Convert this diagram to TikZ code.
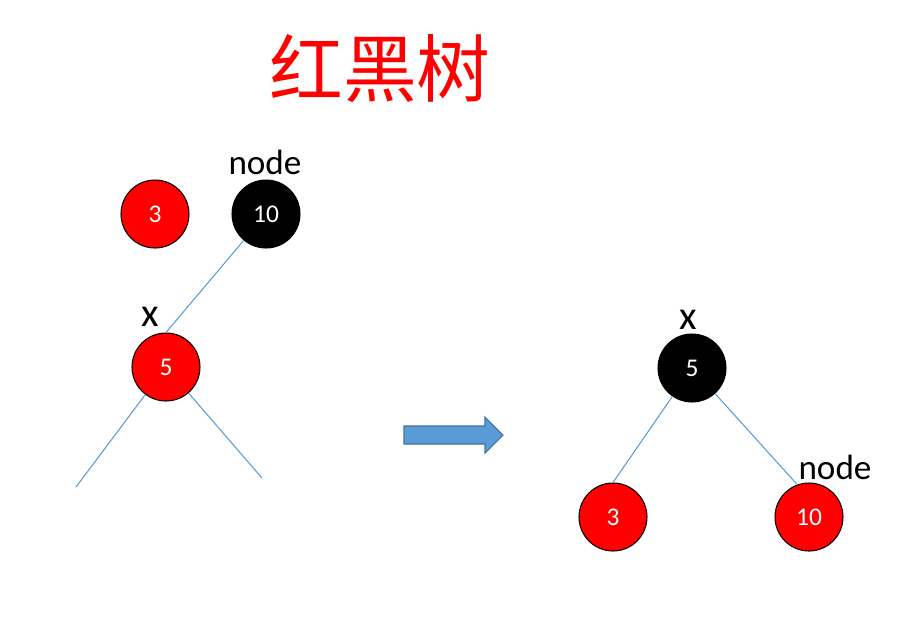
\documentclass[tikz,border=0pt]{standalone}
\usepackage{fontspec}
\setmainfont{Carlito}
\newfontfamily\cjk{Noto Sans CJK SC}
\definecolor{treeline}{HTML}{5B9BD5}
\definecolor{arrowfill}{HTML}{5B9BD5}
\definecolor{arrowedge}{HTML}{41719C}

\begin{document}
\begin{tikzpicture}[
  x=0.02cm, y=-0.02cm,
  rb/.style={circle, draw=black, line width=0.6pt, minimum size=1.36cm, inner sep=0pt, text=white, font=\fontsize{14.5}{16}\selectfont},
  rednode/.style={rb, fill=red},
  blacknode/.style={rb, fill=black},
  tag/.style={inner sep=0pt, font=\fontsize{20}{22}\selectfont},
  tagx/.style={inner sep=0pt, font=\fontsize{23}{25}\selectfont},
  link/.style={draw=treeline, line width=0.6pt}
]
  \useasboundingbox (0,0) rectangle (923,637);
  \node[text=red, font=\cjk\fontsize{42}{50}\selectfont] (title) at (380,69) {红黑树};

  % before the rotation
  \node[rednode] (a3) at (155,214) {3};
  \node[blacknode] (a10) at (266,214) {10};
  \node[rednode] (a5) at (166,367) {5};
  \node[tag] (anode) at (265,162) {node};
  \node[tagx] (ax) at (150,317) {x};
  \coordinate (aleft) at (76,487);
  \coordinate (aright) at (262,478);
  \draw[link] (a10) -- (a5.north);
  \draw[link] (a5) -- (aleft);
  \draw[link] (a5) -- (aright);

  % block arrow
  \draw[fill=arrowfill, draw=arrowedge, line width=0.6pt]
    (404,426) -- (485,426) -- (485,417) -- (503,435) -- (485,453) -- (485,444) -- (404,444) -- cycle;

  % after the rotation
  \node[blacknode] (b5) at (692,368) {5};
  \node[rednode] (b3) at (613,517) {3};
  \node[rednode] (b10) at (809,517) {10};
  \node[tagx] (bx) at (688,320) {x};
  \node[tag] (bnode) at (835,467) {node};
  \draw[link] (b5) -- (b3.north);
  \draw[link] (b5) -- (b10.110);
\end{tikzpicture}
\end{document}
